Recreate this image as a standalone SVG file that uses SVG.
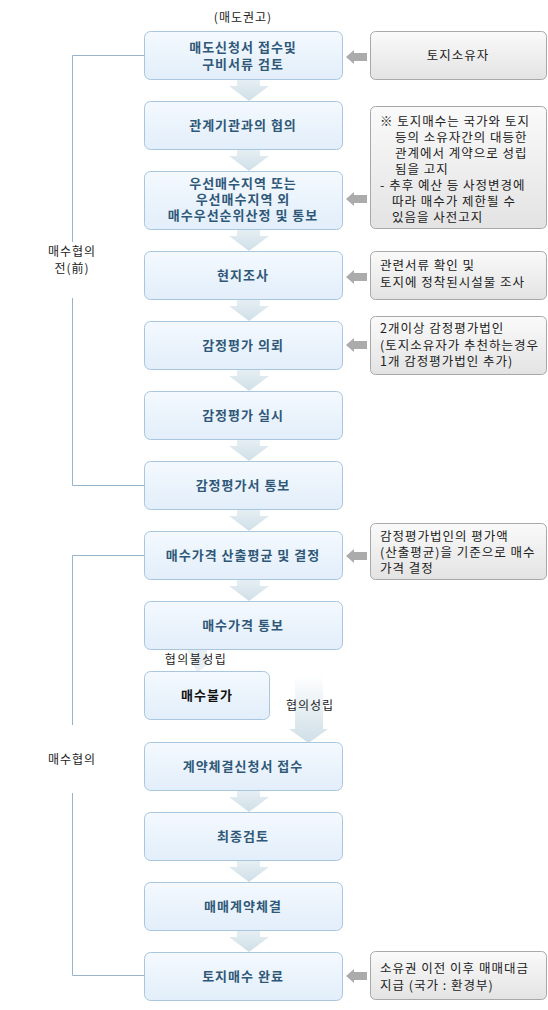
<svg xmlns="http://www.w3.org/2000/svg" xmlns:xlink="http://www.w3.org/1999/xlink" width="548" height="1010" viewBox="0 0 548 1010">
<style>
text{font-family:"Noto Sans CJK KR","Noto Sans",sans-serif;}
.mb{fill:url(#gBlue);stroke:#a9c6df;stroke-width:1;}
.gb{fill:url(#gGray);stroke:#a8a8a8;stroke-width:1;}
.mt{font-size:13px;fill:#2f5878;font-weight:bold;text-anchor:middle;letter-spacing:1px;}
.rt{font-size:12.5px;fill:#222;letter-spacing:1px;}
.lt{font-size:12px;fill:#222;text-anchor:middle;letter-spacing:1px;}
.br{fill:none;stroke:#96b4cc;stroke-width:1;}
.ga{fill:#ababab;}
</style>
<defs>
<linearGradient id="gBlue" x1="0" y1="0" x2="0" y2="1">
<stop offset="0" stop-color="#f4f9fe"/><stop offset="1" stop-color="#e2eefa"/>
</linearGradient>
<linearGradient id="gGray" x1="0" y1="0" x2="0" y2="1">
<stop offset="0" stop-color="#fafafa"/><stop offset="1" stop-color="#e3e3e3"/>
</linearGradient>
<linearGradient id="gArr" x1="0" y1="0" x2="0" y2="1">
<stop offset="0" stop-color="#e9f1f5"/><stop offset="1" stop-color="#cfdfe7"/>
</linearGradient>
<linearGradient id="gArrFade" x1="0" y1="0" x2="0" y2="1">
<stop offset="0" stop-color="#ffffff"/><stop offset="1" stop-color="#cfdfe7"/>
</linearGradient>
<path id="darr" d="M237,-2 H260 V7 H269 L249,22 L229,7 H237 Z" fill="url(#gArr)"/>
<path id="larr" d="M346,0 L354,-7 V-4 H367 V4 H354 V7 Z" class="ga"/>
</defs>

<g id="connectors">
<use xlink:href="#darr" y="79"/>
<use xlink:href="#darr" y="149"/>
<use xlink:href="#darr" y="229"/>
<use xlink:href="#darr" y="299"/>
<use xlink:href="#darr" y="369"/>
<use xlink:href="#darr" y="439"/>
<use xlink:href="#darr" y="509"/>
<use xlink:href="#darr" y="579"/>
<use xlink:href="#darr" y="790"/>
<use xlink:href="#darr" y="860"/>
<use xlink:href="#darr" y="930"/>
<path d="M187,649 H207 V665 L197,673 Z" fill="#dde8ee" opacity="0.7"/>
<path d="M295,675 H323 V729 H328 L308.5,743 L289,729 H295 Z" fill="url(#gArrFade)"/>
<use xlink:href="#larr" y="57"/>
<use xlink:href="#larr" y="199"/>
<use xlink:href="#larr" y="277"/>
<use xlink:href="#larr" y="345"/>
<use xlink:href="#larr" y="556"/>
<use xlink:href="#larr" y="976"/>
<path class="br" d="M144,55.5 H72.5 V242"/>
<path class="br" d="M72.5,298 V485.5 H144"/>
<path class="br" d="M144,555.5 H72.5 V725"/>
<path class="br" d="M72.5,793 V975.5 H144"/>
</g>

<g id="labels">
<text class="lt" x="243" y="22">(매도권고)</text>
<text class="lt" x="72" y="256">매수협의</text>
<text class="lt" x="72" y="273">전(前)</text>
<text class="lt" x="72" y="764">매수협의</text>
<text class="lt" x="196" y="664" style="letter-spacing:1.5px">협의불성립</text>
<text class="lt" x="310" y="710">협의성립</text>
</g>

<g id="n1"><rect class="mb" x="144.5" y="31.5" width="198" height="48" rx="6"/>
<text class="mt" x="243" y="52">매도신청서 접수및</text><text class="mt" x="243" y="69">구비서류 검토</text></g>
<g id="n2"><rect class="mb" x="144.5" y="101.5" width="198" height="48" rx="6"/>
<text class="mt" x="243" y="130">관계기관과의 협의</text></g>
<g id="n3"><rect class="mb" x="144.5" y="171.5" width="198" height="58" rx="6"/>
<text class="mt" x="243" y="188">우선매수지역 또는</text><text class="mt" x="243" y="204">우선매수지역 외</text><text class="mt" x="243" y="220">매수우선순위산정 및 통보</text></g>
<g id="n4"><rect class="mb" x="144.5" y="251.5" width="198" height="48" rx="6"/>
<text class="mt" x="243" y="280">현지조사</text></g>
<g id="n5"><rect class="mb" x="144.5" y="321.5" width="198" height="48" rx="6"/>
<text class="mt" x="243" y="350">감정평가 의뢰</text></g>
<g id="n6"><rect class="mb" x="144.5" y="391.5" width="198" height="48" rx="6"/>
<text class="mt" x="243" y="420">감정평가 실시</text></g>
<g id="n7"><rect class="mb" x="144.5" y="461.5" width="198" height="48" rx="6"/>
<text class="mt" x="243" y="490">감정평가서 통보</text></g>
<g id="n8"><rect class="mb" x="144.5" y="531.5" width="198" height="48" rx="6"/>
<text class="mt" x="243" y="560">매수가격 산출평균 및 결정</text></g>
<g id="n9"><rect class="mb" x="144.5" y="601.5" width="198" height="48" rx="6"/>
<text class="mt" x="243" y="630">매수가격 통보</text></g>
<g id="n10"><rect class="mb" x="144.5" y="671.5" width="125" height="48" rx="6"/>
<text class="mt" x="207" y="700" style="fill:#111">매수불가</text></g>
<g id="n11"><rect class="mb" x="144.5" y="742.5" width="198" height="48" rx="6"/>
<text class="mt" x="243" y="771">계약체결신청서 접수</text></g>
<g id="n12"><rect class="mb" x="144.5" y="812.5" width="198" height="48" rx="6"/>
<text class="mt" x="243" y="841">최종검토</text></g>
<g id="n13"><rect class="mb" x="144.5" y="882.5" width="198" height="48" rx="6"/>
<text class="mt" x="243" y="911">매매계약체결</text></g>
<g id="n14"><rect class="mb" x="144.5" y="952.5" width="198" height="48" rx="6"/>
<text class="mt" x="243" y="981">토지매수 완료</text></g>

<g id="r1"><rect class="gb" x="370.5" y="31.5" width="176" height="48" rx="5"/>
<text class="rt" x="458" y="60" text-anchor="middle">토지소유자</text></g>
<g id="r2"><rect class="gb" x="370.5" y="106.5" width="176" height="122" rx="5"/>
<text class="rt" x="380" y="126">※ 토지매수는 국가와 토지</text>
<text class="rt" x="395" y="142">등의 소유자간의 대등한</text>
<text class="rt" x="395" y="158">관계에서 계약으로 성립</text>
<text class="rt" x="395" y="174">됨을 고지</text>
<text class="rt" x="380" y="190">- 추후 예산 등 사정변경에</text>
<text class="rt" x="392" y="206">따라 매수가 제한될 수</text>
<text class="rt" x="392" y="222">있음을 사전고지</text></g>
<g id="r3"><rect class="gb" x="370.5" y="251.5" width="176" height="48" rx="5"/>
<text class="rt" x="380" y="270">관련서류 확인 및</text>
<text class="rt" x="380" y="287">토지에 정착된시설물 조사</text></g>
<g id="r4"><rect class="gb" x="370.5" y="316.5" width="176" height="58" rx="5"/>
<text class="rt" x="380" y="333">2개이상 감정평가법인</text>
<text class="rt" x="380" y="350">(토지소유자가 추천하는경우</text>
<text class="rt" x="380" y="366">1개 감정평가법인 추가)</text></g>
<g id="r5"><rect class="gb" x="370.5" y="523.5" width="176" height="56" rx="5"/>
<text class="rt" x="380" y="541">감정평가법인의 평가액</text>
<text class="rt" x="380" y="557">(산출평균)을 기준으로 매수</text>
<text class="rt" x="380" y="573">가격 결정</text></g>
<g id="r6"><rect class="gb" x="370.5" y="951.5" width="176" height="48" rx="5"/>
<text class="rt" x="380" y="973">소유권 이전 이후 매매대금</text>
<text class="rt" x="380" y="990">지급 (국가 : 환경부)</text></g>
</svg>
